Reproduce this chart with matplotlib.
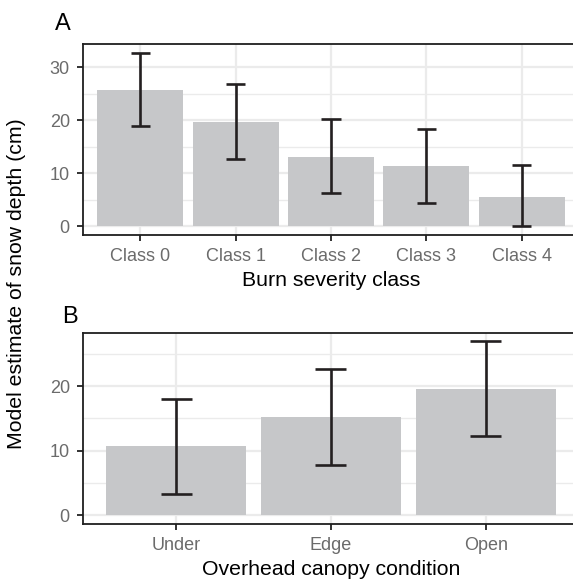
import numpy as np
import matplotlib
matplotlib.use("Agg")
import matplotlib.pyplot as plt

plt.rcParams['font.family'] = ['Liberation Sans', 'DejaVu Sans']

# panel A: burn severity
burn_classes = ["Class 0", "Class 1", "Class 2", "Class 3", "Class 4"]
burn_est = [25.7, 19.7, 13.1, 11.3, 5.6]
burn_lo = [18.8, 12.6, 6.2, 4.4, 0.0]
burn_hi = [32.7, 26.8, 20.2, 18.3, 11.5]

# panel B: canopy condition
canopy = ["Under", "Edge", "Open"]
canopy_est = [10.7, 15.2, 19.6]
canopy_lo = [3.3, 7.85, 12.2]
canopy_hi = [18.05, 22.6, 26.9]

W, H = 573, 586
fig = plt.figure(figsize=(W / 100, H / 100), dpi=100)

bar_col = "#C6C7C9"
err_col = "#231F20"
grid_col = "#EBEBEB"
tick_col = "#6B6B6B"


def panel(rect, cats, est, lo, hi, yticks, minor, xlabel):
    ax = fig.add_axes(rect)
    x = np.arange(1, len(cats) + 1)
    ax.bar(x, est, width=0.9, color=bar_col, zorder=2)
    ax.vlines(x, lo, hi, color=err_col, lw=1.9, zorder=3)
    ax.hlines(lo, x - 0.1, x + 0.1, color=err_col, lw=1.9, zorder=3)
    ax.hlines(hi, x - 0.1, x + 0.1, color=err_col, lw=1.9, zorder=3)
    ymax = max(hi)
    ymin = min(0, min(lo))
    pad = (ymax - ymin) * 0.05
    ax.set_ylim(ymin - pad, ymax + pad)
    ax.set_xlim(0.4, len(cats) + 0.6)
    ax.set_xticks(x)
    ax.set_xticklabels(cats)
    ax.set_yticks(yticks)
    ax.set_yticks(minor, minor=True)
    for v in yticks:
        ax.axhline(v, color=grid_col, lw=1.6, zorder=0)
    for v in minor:
        ax.axhline(v, color=grid_col, lw=1.0, zorder=0)
    for v in x:
        ax.axvline(v, color=grid_col, lw=1.6, zorder=0)
    ax.tick_params(which="minor", length=0)
    ax.tick_params(which="major", length=4.5, width=1.3, color="#222222",
                   labelsize=13, labelcolor=tick_col, pad=5)
    for s in ax.spines.values():
        s.set_color("#1F1F1F")
        s.set_linewidth(1.3)
    ax.spines["right"].set_visible(False)
    ax.set_xlabel(xlabel, fontsize=15.3, color="black", labelpad=4)
    return ax


axA = panel([83 / W, 1 - 235 / H, 496 / W, 191 / H], burn_classes, burn_est,
            burn_lo, burn_hi, [0, 10, 20, 30], [5, 15, 25], "Burn severity class")
axB = panel([83 / W, 1 - 524 / H, 496 / W, 191.3 / H], canopy, canopy_est,
            canopy_lo, canopy_hi, [0, 10, 20], [5, 15, 25], "Overhead canopy condition")

fig.text(55 / W, 1 - 30 / H, "A", fontsize=17, ha="left", va="baseline")
fig.text(62 / W, 1 - 323 / H, "B", fontsize=17, ha="left", va="baseline")
fig.text(17 / W, 1 - 284 / H, "Model estimate of snow depth (cm)", fontsize=15.3,
         rotation=90, ha="center", va="center")

fig.savefig("out.png", dpi=100)
